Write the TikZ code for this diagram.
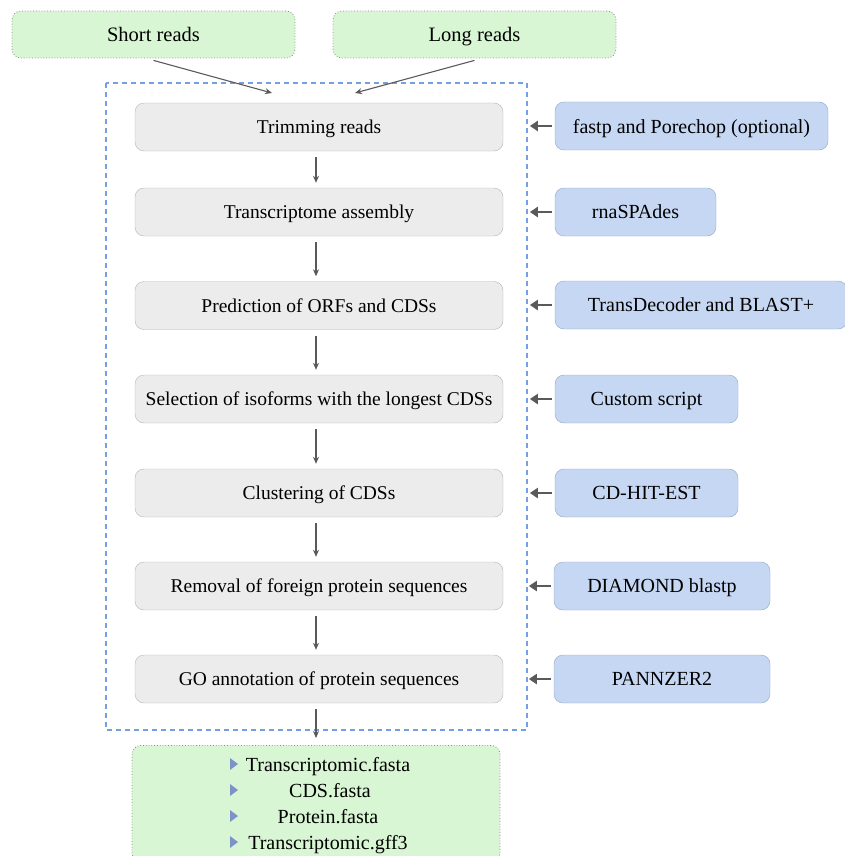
\documentclass[tikz,border=0pt]{standalone}
\usepackage{fontspec}
\setmainfont{Liberation Serif}
\usetikzlibrary{arrows.meta,positioning}
\definecolor{grayfill}{HTML}{ECECEC}
\definecolor{graydraw}{HTML}{B4B4B4}
\definecolor{bluefill}{HTML}{C6D7F3}
\definecolor{bluedraw}{HTML}{93A6C6}
\definecolor{greenfill}{HTML}{D8F6D3}
\definecolor{dotdraw}{HTML}{8C8C8C}
\definecolor{dashblue}{HTML}{74A0E2}
\definecolor{arrowgray}{HTML}{5A5A5A}
\definecolor{tri}{HTML}{7D93C8}
\tikzset{
  stepbox/.style={draw=graydraw, fill=grayfill, rounded corners=9pt, minimum width=368pt, minimum height=48pt, inner sep=0pt, text depth=0pt, font=\fontsize{19.5}{22}\selectfont},
  toolbox/.style={draw=bluedraw, fill=bluefill, rounded corners=9pt, minimum height=48pt, inner sep=0pt, text depth=0pt, font=\fontsize{20}{22}\selectfont},
  inbox/.style={draw=dotdraw, dotted, line width=0.8pt, fill=greenfill, rounded corners=9pt, minimum width=283pt, minimum height=47pt, inner sep=0pt, text depth=0pt, font=\fontsize{20.5}{23}\selectfont},
  flow/.style={draw=arrowgray, line width=1.1pt, -{Stealth[length=7pt,width=6pt]}},
  toolarrow/.style={draw=arrowgray, line width=2.6pt, -{Triangle[length=8pt,width=10pt]}},
  txt/.style={inner sep=0pt, text depth=0pt, font=\fontsize{20}{22}\selectfont}
}
\begin{document}
\begin{tikzpicture}[x=1pt,y=-1pt]
\useasboundingbox (0,0) rectangle (845,856);
% inputs
\node[inbox] (short) at (153.5,34.5) {Short reads};
\node[inbox] (long) at (474.5,34.5) {Long reads};
% dashed frame
\draw[dashblue, line width=1.6pt, dash pattern=on 5pt off 4pt] (106,83) rectangle (527,730);
% steps
\node[stepbox] (s1) at (319,127) {Trimming reads};
\node[stepbox] (s2) at (319,212) {Transcriptome assembly};
\node[stepbox] (s3) at (319,305.5) {Prediction of ORFs and CDSs};
\node[stepbox] (s4) at (319,399) {Selection of isoforms with the longest CDSs};
\node[stepbox] (s5) at (319,493) {Clustering of CDSs};
\node[stepbox] (s6) at (319,586) {Removal of foreign protein sequences};
\node[stepbox] (s7) at (319,679) {GO annotation of protein sequences};
% tools
\node[toolbox, minimum width=273pt] (t1) at (691.5,126) {fastp and Porechop (optional)};
\node[toolbox, minimum width=161pt] (t2) at (635.5,212) {rnaSPAdes};
\node[toolbox, minimum width=292pt] (t3) at (701,305) {TransDecoder and BLAST+};
\node[toolbox, minimum width=183pt] (t4) at (646.5,399) {Custom script};
\node[toolbox, minimum width=183pt] (t5) at (646.5,493) {CD-HIT-EST};
\node[toolbox, minimum width=216pt] (t6) at (662,586) {DIAMOND blastp};
\node[toolbox, minimum width=216pt] (t7) at (662,679) {PANNZER2};
% output
\node[inbox, minimum width=368pt, minimum height=116pt, anchor=north] (out) at (316,745) {};
\node[txt] (o1) at (328,764) {Transcriptomic.fasta};
\node[txt] (o2) at (330,790) {CDS.fasta};
\node[txt] (o3) at (328,816) {Protein.fasta};
\node[txt] (o4) at (328,842) {Transcriptomic.gff3};
\foreach \y/\n in {764/o1,790/o2,816/o3,842/o4}{
  \fill[tri] (230,\y-6) -- (238,\y) -- (230,\y+6) -- cycle;
}
% coordinates
\coordinate (inA) at (272,93);
\coordinate (inB) at (355,93);
\coordinate (outEnd) at (316,738);
% input arrows
\draw[flow] ([yshift=-2pt]short.south) -- (inA);
\draw[flow] ([yshift=-2pt]long.south) -- (inB);
% step arrows
\foreach \a/\b in {s1/s2,s2/s3,s3/s4,s4/s5,s5/s6,s6/s7}{
  \draw[flow] ([yshift=-6pt]\a.south -| 316,0) -- ([yshift=5pt]\b.north -| 316,0);
}
\draw[flow] ([yshift=-6pt]s7.south -| 316,0) -- (outEnd);
% tool arrows
\foreach \t in {t1,t2,t3,t4,t5,t6,t7}{
  \draw[toolarrow] ([xshift=-3pt]\t.west) -- ++(-22,0);
}
\end{tikzpicture}
\end{document}
